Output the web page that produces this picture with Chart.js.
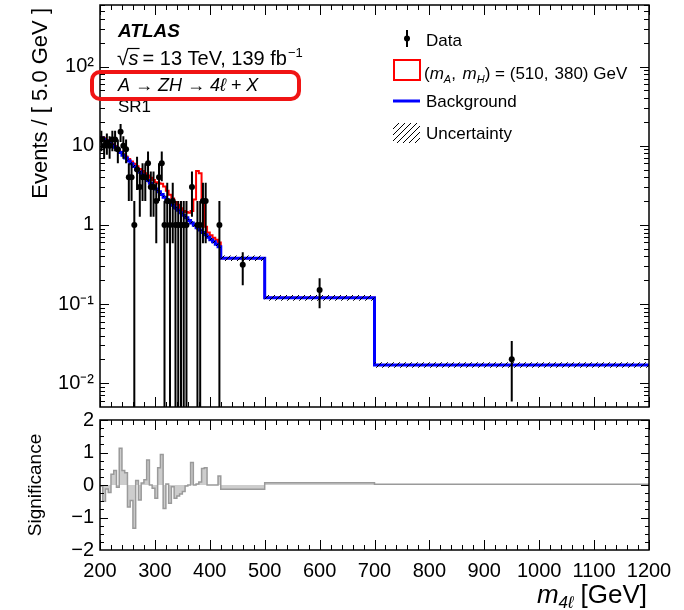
<!DOCTYPE html>
<html>
<head>
<meta charset="utf-8">
<script src="https://cdn.jsdelivr.net/npm/chart.js@4.4.1/dist/chart.umd.min.js"></script>
<style>
  body { margin: 0; background: #fff; }
  #wrap { position: relative; width: 684px; height: 610px; }
  canvas { position: absolute; left: 0; }
</style>
</head>
<body>
<div id="wrap">
  <canvas id="main" width="684" height="412" style="top:0"></canvas>
  <canvas id="ratio" width="684" height="198" style="top:412px"></canvas>
</div>
<script>
// bin edges in GeV (5 GeV bins up to 420, then wide bins)
const binEdges = [200, 205, 210, 215, 220, 225, 230, 235, 240, 245, 250, 255, 260, 265, 270, 275,
  280, 285, 290, 295, 300, 305, 310, 315, 320, 325, 330, 335, 340, 345, 350, 355, 360, 365, 370,
  375, 380, 385, 390, 395, 400, 405, 410, 415, 420, 500, 700, 1200];

// observed events per bin (raw counts)
const dataCounts = [12, 10, 11, 10, 12, 12, 9, 15, 10, 9, 4, 4, 1, 5, 3, 4, 4, 6, 3, 3,
  2, 4, 6, 1, 2, 1, 2, 1, 1, 1, 1, 1, 0, 3, 0, 1, 1, 2, 2, 0, 0, 0, 0, 1,
  5, 6, 2];

// background prediction, events / 5 GeV
const bkgValues = [12.5, 12.0, 11.4, 10.8, 10.2, 9.6, 8.9, 8.2, 7.6, 7.0, 6.4, 5.9, 5.45, 5.0, 4.65,
  4.3, 3.95, 3.65, 3.35, 3.1, 2.85, 2.62, 2.42, 2.24, 2.07, 1.92, 1.78, 1.65, 1.53, 1.42, 1.32,
  1.23, 1.14, 1.06, 0.99, 0.92, 0.86, 0.8, 0.75, 0.7, 0.65, 0.61, 0.57, 0.53,
  0.38, 0.12, 0.017];

// relative background uncertainty
const bkgUnc = [0.05, 0.05, 0.05, 0.05, 0.05, 0.05, 0.05, 0.05, 0.05, 0.05, 0.05, 0.05, 0.05, 0.05, 0.05,
  0.05, 0.05, 0.05, 0.05, 0.05, 0.05, 0.05, 0.05, 0.05, 0.05, 0.05, 0.05, 0.05, 0.05, 0.05, 0.05,
  0.05, 0.05, 0.05, 0.05, 0.05, 0.05, 0.05, 0.05, 0.05, 0.05, 0.05, 0.05, 0.05,
  0.08, 0.08, 0.08];

// signal (510, 380) + background, events / 5 GeV
const sigBkgValues = [12.9, 12.4, 11.8, 11.1, 10.5, 9.9, 9.0, 8.4, 7.8, 7.3, 6.8, 6.3, 5.9, 5.5, 5.1,
  4.8, 4.5, 4.2, 3.95, 3.7, 3.45, 3.35, 3.3, 3.05, 2.7, 2.4, 2.15, 1.95, 1.8, 1.62, 1.5,
  1.45, 1.42, 1.5, 2.1, 4.8, 4.5, 2.0, 0.95, 0.8, 0.74, 0.69, 0.65, 0.6,
  0.38, 0.12, 0.017];

// significance per bin (lower panel)
const significance = [-0.03, -0.5, -0.12, -0.23, 0.33, 0.45, -0.07, 1.13, 0.45, 0.38, -0.68, -0.48,
  -1.33, 0.14, -0.46, 0.06, 0.16, 0.77, 0, -0.1, -0.41, 0.53, 0.94, -0.72, 0.03, -0.56, -0.05,
  -0.41, -0.34, -0.28, -0.2, -0.03, 0, 0.69, 0, 0.03, 0.09, 0.51, 0.53, 0, 0, 0, 0, 0.28,
  -0.13, 0.07, 0.02];

const yMajorTicks = [0.01, 0.1, 1, 10, 100];
const yTickLabels = ['10⁻²', '10⁻¹', '1', '10', '10²'];

const FONT = '"Liberation Sans", Arial, Helvetica, sans-serif';

function steps(values) {
  const pts = values.map((v, i) => ({ x: binEdges[i], y: v }));
  pts.push({ x: binEdges[binEdges.length - 1], y: values[values.length - 1] });
  return pts;
}

const dataPts = [];
dataCounts.forEach((n, i) => {
  if (n <= 0) return;
  const lo = binEdges[i], hi = binEdges[i + 1];
  const w = 5 / (hi - lo);
  dataPts.push({ x: (lo + hi) / 2, y: n * w, lo: (n - Math.sqrt(n)) * w, hi: (n + Math.sqrt(n)) * w });
});

const bkgLo = bkgValues.map((b, i) => b * (1 - bkgUnc[i]));
const bkgHi = bkgValues.map((b, i) => b * (1 + bkgUnc[i]));

function makeHatch() {
  const c = document.createElement('canvas');
  c.width = 6; c.height = 6;
  const g = c.getContext('2d');
  g.strokeStyle = '#000';
  g.lineWidth = 1;
  g.beginPath();
  g.moveTo(0, 6); g.lineTo(6, 0);
  g.moveTo(-1, 1); g.lineTo(1, -1);
  g.moveTo(5, 7); g.lineTo(7, 5);
  g.stroke();
  return g.createPattern(c, 'repeat');
}
const hatch = makeHatch();

// frame + inward ticks on all four sides
function drawFrame(chart, cfg) {
  const { ctx, chartArea: a } = chart;
  const xs = chart.scales.x, ys = chart.scales.y;
  ctx.save();
  ctx.strokeStyle = '#000';
  ctx.lineWidth = 1;
  ctx.beginPath();
  for (let v = 200; v <= 1200; v += 20) {
    const px = Math.round(xs.getPixelForValue(v)) + 0.5;
    const len = v % 100 === 0 ? cfg.xMajor : cfg.xMinor;
    ctx.moveTo(px, a.bottom); ctx.lineTo(px, a.bottom - len);
    ctx.moveTo(px, a.top); ctx.lineTo(px, a.top + len);
  }
  cfg.yTicks.forEach(t => {
    const py = Math.round(ys.getPixelForValue(t.v)) + 0.5;
    if (py < a.top || py > a.bottom) return;
    ctx.moveTo(a.left, py); ctx.lineTo(a.left + t.len, py);
    ctx.moveTo(a.right, py); ctx.lineTo(a.right - t.len, py);
  });
  ctx.stroke();
  ctx.lineWidth = 1.5;
  ctx.strokeRect(a.left, a.top, a.right - a.left, a.bottom - a.top);
  ctx.restore();
}

const logTicks = [];
for (let e = -3; e <= 2; e++) {
  for (let k = 1; k <= 9; k++) {
    logTicks.push({ v: k * Math.pow(10, e), len: k === 1 ? 9 : 5 });
  }
}
const sigTicks = [];
for (let v = -2; v <= 2.001; v += 0.25) {
  sigTicks.push({ v: v, len: Math.abs(v - Math.round(v)) < 0.01 ? 8 : 4 });
}

const errorBars = {
  id: 'errorBars',
  afterDatasetsDraw(chart) {
    const { ctx, chartArea: a } = chart;
    const ys = chart.scales.y;
    const meta = chart.getDatasetMeta(0);
    ctx.save();
    ctx.beginPath();
    ctx.rect(a.left, a.top, a.right - a.left, a.bottom - a.top);
    ctx.clip();
    ctx.strokeStyle = '#000';
    ctx.lineWidth = 2;
    ctx.beginPath();
    chart.data.datasets[0].data.forEach((p, i) => {
      const el = meta.data[i];
      const top = Math.max(ys.getPixelForValue(p.hi), a.top);
      const bot = p.lo > 0 ? Math.min(ys.getPixelForValue(p.lo), a.bottom) : a.bottom;
      ctx.moveTo(el.x, top); ctx.lineTo(el.x, bot);
    });
    ctx.stroke();
    ctx.restore();
  }
};

function runs(ctx, x, y, parts) {
  parts.forEach(p => {
    ctx.font = p.f;
    ctx.fillText(p.t, x, y + (p.dy || 0));
    x += ctx.measureText(p.t).width + (p.sp || 0);
  });
  return x;
}

const mainDecor = {
  id: 'mainDecor',
  afterDraw(chart) {
    drawFrame(chart, { xMajor: 10, xMinor: 5, yTicks: logTicks });
    const ctx = chart.ctx;
    ctx.save();
    ctx.fillStyle = '#000';
    ctx.textBaseline = 'alphabetic';
    ctx.textAlign = 'left';
    const n17 = '17px ' + FONT, i17 = 'italic 17px ' + FONT;
    const n20 = '20px ' + FONT;

    ctx.font = 'italic bold 19px ' + FONT;
    ctx.fillText('ATLAS', 118, 37);

    // sqrt(s) line
    ctx.font = '21px ' + FONT;
    ctx.fillText('√', 117, 65);
    const sx = 117 + ctx.measureText('√').width;
    ctx.font = 'italic 20px ' + FONT;
    ctx.fillText('s', sx, 65);
    const sw = ctx.measureText('s').width;
    ctx.lineWidth = 1.2;
    ctx.strokeStyle = '#000';
    ctx.beginPath();
    ctx.moveTo(sx - 1, 48.5); ctx.lineTo(sx + sw + 1, 48.5);
    ctx.stroke();
    runs(ctx, sx + sw + 4, 65, [
      { t: '= 13 TeV, 139 fb', f: n20, sp: 1 },
      { t: '−1', f: '13px ' + FONT, dy: -8 }
    ]);

    ctx.font = 'italic 18px ' + FONT;
    ctx.fillText('A → ZH → 4ℓ + X', 118, 91);
    ctx.font = n17;
    ctx.fillText('SR1', 118, 112);

    // red highlight box
    ctx.strokeStyle = '#f01414';
    ctx.lineWidth = 4;
    const bx = 92, by = 72, bw = 207, bh = 27, r = 8;
    ctx.beginPath();
    ctx.moveTo(bx + r, by);
    ctx.lineTo(bx + bw - r, by); ctx.arcTo(bx + bw, by, bx + bw, by + r, r);
    ctx.lineTo(bx + bw, by + bh - r); ctx.arcTo(bx + bw, by + bh, bx + bw - r, by + bh, r);
    ctx.lineTo(bx + r, by + bh); ctx.arcTo(bx, by + bh, bx, by + bh - r, r);
    ctx.lineTo(bx, by + r); ctx.arcTo(bx, by, bx + r, by, r);
    ctx.closePath();
    ctx.stroke();

    // legend
    ctx.strokeStyle = '#000';
    ctx.lineWidth = 2;
    ctx.beginPath();
    ctx.moveTo(407, 30); ctx.lineTo(407, 47);
    ctx.stroke();
    ctx.beginPath();
    ctx.arc(407, 38.5, 3, 0, Math.PI * 2);
    ctx.fill();
    ctx.font = n17;
    ctx.fillText('Data', 426, 46);

    ctx.strokeStyle = '#ff0000';
    ctx.lineWidth = 2;
    ctx.strokeRect(394, 60, 26, 20);
    runs(ctx, 424, 79, [
      { t: '(', f: n17 },
      { t: 'm', f: i17 },
      { t: 'A', f: 'italic 11px ' + FONT, dy: 4 },
      { t: ', ', f: n17, sp: 2 },
      { t: 'm', f: i17 },
      { t: 'H', f: 'italic 11px ' + FONT, dy: 4 },
      { t: ') = (510,', f: n17, sp: 6 },
      { t: '380) GeV', f: n17 }
    ]);

    ctx.strokeStyle = '#0000ff';
    ctx.lineWidth = 3;
    ctx.beginPath();
    ctx.moveTo(393, 101); ctx.lineTo(420, 101);
    ctx.stroke();
    ctx.font = n17;
    ctx.fillText('Background', 426, 107);

    ctx.fillStyle = hatch;
    ctx.fillRect(393, 123, 27, 20);
    ctx.fillStyle = '#000';
    ctx.fillText('Uncertainty', 426, 139);

    // y title
    ctx.save();
    ctx.translate(47, 8);
    ctx.rotate(-Math.PI / 2);
    ctx.textAlign = 'right';
    ctx.font = '22px ' + FONT;
    ctx.fillText('Events / [ 5.0 GeV ]', 0, 0);
    ctx.restore();
    ctx.restore();
  }
};

const ratioDecor = {
  id: 'ratioDecor',
  afterDraw(chart) {
    drawFrame(chart, { xMajor: 10, xMinor: 5, yTicks: sigTicks });
    const ctx = chart.ctx;
    ctx.save();
    ctx.fillStyle = '#000';
    ctx.save();
    ctx.translate(41, 73);
    ctx.rotate(-Math.PI / 2);
    ctx.textAlign = 'center';
    ctx.font = '19px ' + FONT;
    ctx.fillText('Significance', 0, 0);
    ctx.restore();

    // x title, right aligned
    const parts = [
      { t: 'm', f: 'italic 26px ' + FONT },
      { t: '4ℓ', f: 'italic 17px ' + FONT, dy: 5, sp: 7 },
      { t: '[GeV]', f: '26px ' + FONT }
    ];
    let w = 0;
    parts.forEach(p => { ctx.font = p.f; w += ctx.measureText(p.t).width + (p.sp || 0); });
    ctx.textAlign = 'left';
    runs(ctx, 647 - w, 191, parts);
    ctx.restore();
  }
};

Chart.defaults.font.family = FONT;
Chart.defaults.color = '#000';

new Chart(document.getElementById('main'), {
  type: 'line',
  data: {
    datasets: [
      {
        type: 'scatter', label: 'Data', data: dataPts,
        pointRadius: 3, pointBackgroundColor: '#000', pointBorderWidth: 0, showLine: false
      },
      {
        label: 'uncLo', data: steps(bkgLo), stepped: true, pointRadius: 0,
        borderColor: 'rgba(0,0,0,0)', borderWidth: 0, fill: false
      },
      {
        label: 'uncHi', data: steps(bkgHi), stepped: true, pointRadius: 0,
        borderColor: 'rgba(0,0,0,0)', borderWidth: 0, fill: '-1', backgroundColor: hatch
      },
      {
        label: 'Background', data: steps(bkgValues), stepped: true, pointRadius: 0,
        borderColor: '#0000ff', borderWidth: 3, fill: false
      },
      {
        label: 'Signal', data: steps(sigBkgValues), stepped: true, pointRadius: 0,
        borderColor: '#ff0000', borderWidth: 2, fill: false
      }
    ]
  },
  options: {
    responsive: false,
    animation: false,
    devicePixelRatio: 1,
    layout: { padding: { left: 0, right: 35, top: 5, bottom: 5 } },
    plugins: { legend: { display: false }, tooltip: { enabled: false } },
    scales: {
      x: {
        type: 'linear', min: 200, max: 1200,
        ticks: { display: false },
        grid: { display: false, drawTicks: false },
        border: { display: false },
        afterFit(s) { s.height = 0; s.paddingLeft = 0; s.paddingRight = 0; }
      },
      y: {
        type: 'logarithmic', min: 0.005, max: 600,
        afterBuildTicks(s) { s.ticks = yMajorTicks.map(v => ({ value: v })); },
        ticks: {
          callback: (v) => yTickLabels[yMajorTicks.indexOf(v)],
          font: { size: 20 }, color: '#000', padding: 6
        },
        grid: { display: false, drawTicks: false },
        border: { display: false },
        afterFit(s) { s.width = 100; s.paddingTop = 0; s.paddingBottom = 0; }
      }
    }
  },
  plugins: [errorBars, mainDecor]
});

new Chart(document.getElementById('ratio'), {
  type: 'line',
  data: {
    datasets: [{
      label: 'Significance', data: steps(significance), stepped: true, pointRadius: 0,
      borderColor: '#9a9a9a', borderWidth: 1.5, backgroundColor: '#cdcdcd', fill: { value: 0 }
    }]
  },
  options: {
    responsive: false,
    animation: false,
    devicePixelRatio: 1,
    layout: { padding: { left: 0, right: 35, top: 8, bottom: 0 } },
    plugins: { legend: { display: false }, tooltip: { enabled: false } },
    scales: {
      x: {
        type: 'linear', min: 200, max: 1200,
        ticks: {
          stepSize: 100, font: { size: 20 }, color: '#000', padding: 9, maxRotation: 0, autoSkip: false,
          callback: (v) => String(v)
        },
        grid: { display: false, drawTicks: false },
        border: { display: false },
        afterFit(s) { s.height = 60; s.paddingLeft = 0; s.paddingRight = 0; }
      },
      y: {
        min: -2, max: 2,
        ticks: {
          stepSize: 1, font: { size: 20 }, color: '#000', padding: 6,
          callback: (v) => (v < 0 ? '−' + Math.abs(v) : String(v))
        },
        grid: { display: false, drawTicks: false },
        border: { display: false },
        afterFit(s) { s.width = 100; s.paddingTop = 0; s.paddingBottom = 0; }
      }
    }
  },
  plugins: [ratioDecor]
});
</script>
</body>
</html>
